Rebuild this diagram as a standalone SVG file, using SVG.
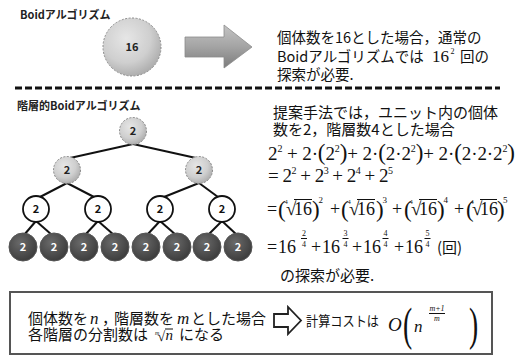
<svg xmlns="http://www.w3.org/2000/svg" width="523" height="356" viewBox="0 0 523 356">
<defs>
<radialGradient id="gLight" cx="0.4" cy="0.35" r="0.7">
<stop offset="0" stop-color="#e6e6e6"/><stop offset="0.6" stop-color="#cfcfcf"/><stop offset="1" stop-color="#a9a9a9"/>
</radialGradient>
<radialGradient id="gDark" cx="0.4" cy="0.35" r="0.7">
<stop offset="0" stop-color="#6a6a6a"/><stop offset="1" stop-color="#3a3a3a"/>
</radialGradient>
<linearGradient id="gArrow" x1="0" y1="0" x2="0" y2="1">
<stop offset="0" stop-color="#c4c4c4"/><stop offset="0.5" stop-color="#a4a4a4"/><stop offset="1" stop-color="#7c7c7c"/>
</linearGradient>
<style>
.jp{font-family:"Noto Sans CJK JP","Noto Sans",sans-serif;fill:#111;}
.ttl{font-family:"Noto Sans CJK JP","Noto Sans",sans-serif;font-weight:bold;font-size:11px;fill:#222;}
.body{font-size:15px;}
.m{font-family:"Liberation Serif","DejaVu Serif",serif;fill:#111;}
.it{font-style:italic;}
.lbl{font-family:"Noto Sans CJK JP","Noto Sans",sans-serif;font-weight:bold;font-size:11px;text-anchor:middle;}
.light{fill:url(#gLight);stroke:#8a8a8a;stroke-width:1;stroke-dasharray:2 1.5;}
.white{fill:#fff;stroke:#111;stroke-width:1.8;}
.dark{fill:url(#gDark);stroke:#555;stroke-width:1;}
.conn{stroke:#111;stroke-width:2;fill:none;}
.bar{stroke:#111;stroke-width:1;}
</style>
</defs>
<rect width="523" height="356" fill="#fff"/>

<!-- Top section -->
<text class="ttl" x="20" y="19">Boidアルゴリズム</text>
<g id="node-16">
<circle class="light" cx="132" cy="47" r="29"/>
<text class="lbl" x="132" y="51" fill="#222" font-size="12">16</text>
</g>
<g id="big-arrow">
<polygon points="185,37 224,37 224,25 252,47 224,68 224,57 185,57" fill="url(#gArrow)" stroke="#8c8c8c" stroke-width="0.8"/>
</g>
<g id="top-text">
<text class="jp" font-size="14.5" x="277" y="43">個体数を16とした場合，通常の</text>
<text class="jp" font-size="14.5" x="277" y="62">Boidアルゴリズムでは<tspan class="m" x="432" font-size="17">16</tspan><tspan class="m" x="450.5" y="54" font-size="8">2</tspan><tspan x="460" y="62">回の</tspan></text>
<text class="jp" font-size="14.5" x="277" y="80">探索が必要.</text>
</g>

<line x1="15" y1="88" x2="500" y2="88" stroke="#111" stroke-width="3" stroke-dasharray="7 3"/>

<!-- Second section -->
<text class="ttl" x="17" y="110">階層的Boidアルゴリズム</text>

<g id="connectors">
<line class="conn" x1="133" y1="144" x2="70" y2="158"/>
<line class="conn" x1="133" y1="144" x2="196" y2="158"/>
<line class="conn" x1="67" y1="183" x2="40" y2="197"/>
<line class="conn" x1="67" y1="183" x2="94" y2="197"/>
<line class="conn" x1="199" y1="183" x2="164" y2="197"/>
<line class="conn" x1="199" y1="183" x2="218" y2="197"/>
<line class="conn" x1="36" y1="221" x2="24" y2="235"/>
<line class="conn" x1="36" y1="221" x2="52" y2="235"/>
<line class="conn" x1="98" y1="221" x2="85" y2="235"/>
<line class="conn" x1="98" y1="221" x2="114" y2="235"/>
<line class="conn" x1="160" y1="221" x2="147" y2="235"/>
<line class="conn" x1="160" y1="221" x2="176" y2="235"/>
<line class="conn" x1="222" y1="221" x2="208" y2="235"/>
<line class="conn" x1="222" y1="221" x2="237" y2="235"/>
</g>

<g id="n-root"><circle class="light" cx="133" cy="131" r="13.5"/><text class="lbl" x="133" y="135" fill="#222">2</text></g>
<g id="n-l2a"><circle class="light" cx="67" cy="170" r="13.5"/><text class="lbl" x="67" y="174" fill="#222">2</text></g>
<g id="n-l2b"><circle class="light" cx="199" cy="170" r="13.5"/><text class="lbl" x="199" y="174" fill="#222">2</text></g>
<g id="n-l3a"><circle class="white" cx="36" cy="209" r="13"/><text class="lbl" x="36" y="213" fill="#111">2</text></g>
<g id="n-l3b"><circle class="white" cx="98" cy="209" r="13"/><text class="lbl" x="98" y="213" fill="#111">2</text></g>
<g id="n-l3c"><circle class="white" cx="160" cy="209" r="13"/><text class="lbl" x="160" y="213" fill="#111">2</text></g>
<g id="n-l3d"><circle class="white" cx="222" cy="209" r="13"/><text class="lbl" x="222" y="213" fill="#111">2</text></g>
<g id="n-l4a"><circle class="dark" cx="23" cy="247" r="14"/><text class="lbl" x="23" y="251" fill="#fff">2</text></g>
<g id="n-l4b"><circle class="dark" cx="54" cy="247" r="14"/><text class="lbl" x="54" y="251" fill="#fff">2</text></g>
<g id="n-l4c"><circle class="dark" cx="84" cy="247" r="14"/><text class="lbl" x="84" y="251" fill="#fff">2</text></g>
<g id="n-l4d"><circle class="dark" cx="115" cy="247" r="14"/><text class="lbl" x="115" y="251" fill="#fff">2</text></g>
<g id="n-l4e"><circle class="dark" cx="146" cy="247" r="14"/><text class="lbl" x="146" y="251" fill="#fff">2</text></g>
<g id="n-l4f"><circle class="dark" cx="177" cy="247" r="14"/><text class="lbl" x="177" y="251" fill="#fff">2</text></g>
<g id="n-l4g"><circle class="dark" cx="207" cy="247" r="14"/><text class="lbl" x="207" y="251" fill="#fff">2</text></g>
<g id="n-l4h"><circle class="dark" cx="238" cy="247" r="14"/><text class="lbl" x="238" y="251" fill="#fff">2</text></g>

<g id="formula">
<text class="jp body" x="273" y="118">提案手法では，ユニット内の個体</text>
<text class="jp body" x="273" y="135">数を2，階層数4とした場合</text>
<text class="m" x="268" y="160" font-size="19" textLength="247" lengthAdjust="spacing">2<tspan font-size="10" dy="-8">2</tspan><tspan dy="8"> + 2·</tspan><tspan font-size="23">(</tspan>2<tspan font-size="10" dy="-8">2</tspan><tspan font-size="23" dy="8">)</tspan>+ 2·<tspan font-size="23">(</tspan>2·2<tspan font-size="10" dy="-8">2</tspan><tspan font-size="23" dy="8">)</tspan>+ 2·<tspan font-size="23">(</tspan>2·2·2<tspan font-size="10" dy="-8">2</tspan><tspan font-size="23" dy="8">)</tspan></text>
<text class="m" x="268" y="182" font-size="19" textLength="125" lengthAdjust="spacing">= 2<tspan font-size="10" dy="-8">2</tspan><tspan dy="8"> + 2</tspan><tspan font-size="10" dy="-8">3</tspan><tspan dy="8"> + 2</tspan><tspan font-size="10" dy="-8">4</tspan><tspan dy="8"> + 2</tspan><tspan font-size="10" dy="-8">5</tspan></text>

<!-- line 3 -->
<text class="m" x="267" y="215" font-size="18">=</text>
<text class="m" font-size="23" y="217"><tspan x="278">(</tspan><tspan x="341">(</tspan><tspan x="404">(</tspan><tspan x="466">(</tspan></text>
<text class="m" font-size="23" y="217"><tspan x="312">)</tspan><tspan x="376">)</tspan><tspan x="437">)</tspan><tspan x="497">)</tspan></text>
<text class="m" font-size="19" y="215"><tspan x="286">√</tspan><tspan x="349">√</tspan><tspan x="411">√</tspan><tspan x="472">√</tspan></text>
<text class="m" font-size="6.5" y="204"><tspan x="284.5">4</tspan><tspan x="347.5">4</tspan><tspan x="409.5">4</tspan><tspan x="470.5">4</tspan></text>
<text class="m" font-size="18" y="215"><tspan x="294">16</tspan><tspan x="357">16</tspan><tspan x="419">16</tspan><tspan x="480">16</tspan></text>
<g class="bar">
<line x1="294" y1="199.5" x2="312" y2="199.5"/>
<line x1="357" y1="199.5" x2="375" y2="199.5"/>
<line x1="419" y1="199.5" x2="437" y2="199.5"/>
<line x1="480" y1="199.5" x2="497" y2="199.5"/>
</g>
<text class="m" font-size="9" y="203"><tspan x="318.5">2</tspan><tspan x="382.5">3</tspan><tspan x="443.5">4</tspan><tspan x="503">5</tspan></text>
<text class="m" font-size="18" y="215"><tspan x="330">+</tspan><tspan x="392">+</tspan><tspan x="454">+</tspan></text>

<!-- line 4 -->
<text class="m" font-size="18" y="253"><tspan x="267">=</tspan><tspan x="278">16</tspan><tspan x="311">+</tspan><tspan x="322">16</tspan><tspan x="352">+</tspan><tspan x="363">16</tspan><tspan x="394">+</tspan><tspan x="405">16</tspan></text>
<text class="m" font-size="8" text-anchor="middle" y="236"><tspan x="304">2</tspan><tspan x="345.5">3</tspan><tspan x="385.5">4</tspan><tspan x="427.5">5</tspan></text>
<text class="m" font-size="8" text-anchor="middle" y="246.5"><tspan x="304">4</tspan><tspan x="345.5">4</tspan><tspan x="385.5">4</tspan><tspan x="427.5">4</tspan></text>
<g class="bar">
<line x1="301" y1="238.5" x2="307" y2="238.5"/>
<line x1="342.5" y1="238.5" x2="348.5" y2="238.5"/>
<line x1="382.5" y1="238.5" x2="388.5" y2="238.5"/>
<line x1="424.5" y1="238.5" x2="430.5" y2="238.5"/>
</g>
<text class="jp body" x="437" y="253">(回)</text>
<text class="jp body" x="280" y="281">の探索が必要.</text>
</g>

<!-- Bottom box -->
<g id="summary-box">
<rect x="10" y="292" width="482" height="62" fill="#fff" stroke="#555" stroke-width="2"/>
<text class="jp body" y="324"><tspan x="28">個体数を</tspan><tspan class="m it" x="90" font-size="17">n</tspan><tspan x="102">，</tspan><tspan x="114">階層数を</tspan><tspan class="m it" x="177" font-size="17">m</tspan><tspan x="191">とした場合</tspan></text>
<text class="jp body" y="340"><tspan x="28">各階層の分割数は</tspan><tspan x="179">になる</tspan></text>
<text class="m it" x="155" y="334.5" font-size="6">m</text>
<text class="m" x="157.5" y="341" font-size="14">√</text>
<text class="m it" x="165.5" y="340" font-size="15">n</text>
<line class="bar" x1="165" y1="329" x2="173" y2="329"/>
</g>
<g id="hollow-arrow">
<polygon points="274,314 288,314 288,307 301,320.5 288,334 288,327 274,327" fill="#fff" stroke="#222" stroke-width="1.8" stroke-linejoin="miter"/>
</g>
<g id="cost">
<text class="jp" font-size="14" x="306" y="326" textLength="73" lengthAdjust="spacingAndGlyphs">計算コストは</text>
<text class="m it" x="388" y="331" font-size="19">O</text>
<text class="m" transform="translate(403,340) scale(0.6,1)" font-size="46">(</text>
<text class="m it" x="414" y="332" font-size="17">n</text>
<text class="m it" x="437" y="311" font-size="8" text-anchor="middle">m+1</text>
<line class="bar" x1="429" y1="313.5" x2="445" y2="313.5"/>
<text class="m it" x="437" y="321" font-size="8" text-anchor="middle">m</text>
<text class="m" transform="translate(469,340) scale(0.6,1)" font-size="46">)</text>
</g>
</svg>
